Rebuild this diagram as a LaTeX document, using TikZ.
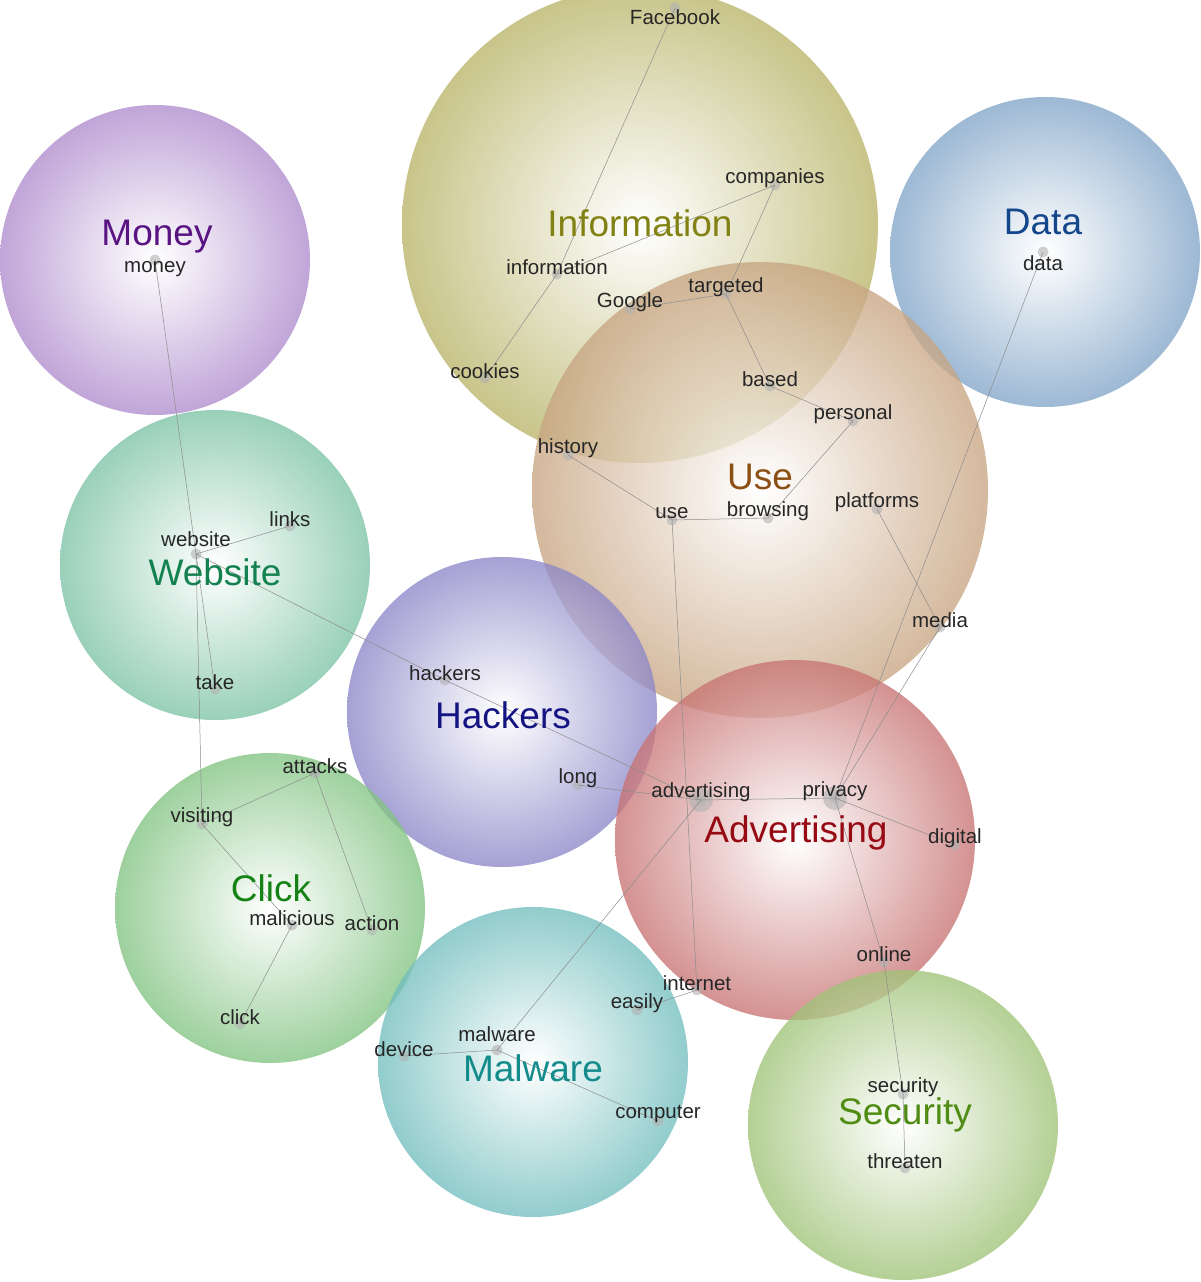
\documentclass[tikz,border=0pt]{standalone}
\usepackage{fontspec}
\setmainfont{Liberation Sans}
\begin{document}
\begin{tikzpicture}[x=1pt,y=-1pt,
  term/.style={font=\fontsize{20.5}{22}\selectfont, text=black!85, inner sep=1pt},
  concept/.style={font=\fontsize{37}{40}\selectfont, inner sep=1pt},
  dot/.style={circle, fill=gray!60, fill opacity=0.6, minimum size=11pt, inner sep=0pt},
  link/.style={draw=black!45, line width=0.5pt},
  bubble/.style={fill opacity=0.78}]
\useasboundingbox (0,0) rectangle (1200,1282);
\definecolor{cMoney}{RGB}{175,140,205}
\definecolor{cWeb}{RGB}{125,195,165}
\definecolor{cInfo}{RGB}{185,180,105}
\definecolor{cData}{RGB}{130,165,200}
\definecolor{cUse}{RGB}{200,165,130}
\definecolor{cHack}{RGB}{140,135,200}
\definecolor{cAdv}{RGB}{200,115,115}
\definecolor{cClick}{RGB}{130,195,130}
\definecolor{cMal}{RGB}{115,190,190}
\definecolor{cSec}{RGB}{160,195,120}
\definecolor{tMoney}{RGB}{90,20,130}
\definecolor{tWeb}{RGB}{20,130,80}
\definecolor{tInfo}{RGB}{130,130,20}
\definecolor{tData}{RGB}{20,70,140}
\definecolor{tUse}{RGB}{140,80,20}
\definecolor{tHack}{RGB}{20,20,130}
\definecolor{tAdv}{RGB}{150,10,20}
\definecolor{tClick}{RGB}{20,130,20}
\definecolor{tMal}{RGB}{20,140,140}
\definecolor{tSec}{RGB}{80,140,20}
% bubbles
\shade[bubble, inner color=white, outer color=cMoney] (155,260) circle (155);
\shade[bubble, inner color=white, outer color=cWeb] (215,565) circle (155);
\shade[bubble, inner color=white, outer color=cData] (1045,252) circle (155);
\shade[bubble, inner color=white, outer color=cInfo] (640,225) circle (238);
\shade[bubble, inner color=white, outer color=cUse] (760,490) circle (228);
\shade[bubble, inner color=white, outer color=cHack] (502,712) circle (155);
\shade[bubble, inner color=white, outer color=cAdv] (795,840) circle (180);
\shade[bubble, inner color=white, outer color=cClick] (270,908) circle (155);
\shade[bubble, inner color=white, outer color=cMal] (533,1062) circle (155);
\shade[bubble, inner color=white, outer color=cSec] (903,1125) circle (155);
% term dots
\foreach \n/\x/\y in {Facebook/675/8, companies/775/185, information/557/274, Google/630/309, targeted/726/294, cookies/485/378, based/770/386, personal/853/421, history/568/455, use/672/520, browsing/768/518, platforms/877/509, media/940/627, data/1043/252, money/155/260, website/196/554, links/290/526, take/215/689, hackers/445/680, long/578/785, advertising/701/800, privacy/835/798, digital/955/845, attacks/315/773, visiting/202/824, malicious/292/925, action/372/930, click/240/1024, internet/697/990, easily/637/1010, online/884/962, malware/497/1050, device/404/1056, computer/658/1121, security/903/1094, threaten/905/1168}
  \node[dot] (d\n) at (\x,\y) {};
\node[dot, minimum size=24pt] at (dadvertising) {};
\node[dot, minimum size=24pt] at (dprivacy) {};
% links
\foreach \a/\b in {Facebook/information, information/cookies, information/companies, companies/targeted, targeted/Google, targeted/based, based/personal, personal/browsing, browsing/use, use/history, use/internet, internet/easily, advertising/privacy, advertising/long, advertising/hackers, hackers/website, advertising/malware, privacy/data, privacy/media, media/platforms, privacy/digital, privacy/online, online/security, security/threaten, money/website, website/links, website/take, website/visiting, visiting/attacks, attacks/action, visiting/malicious, malicious/click, malware/device, malware/computer}
  \draw[link] (d\a.center) -- (d\b.center);
% term labels
\foreach \n/\x/\y in {Facebook/675/17, companies/775/178, information/557/267, Google/630/302, targeted/726/287, cookies/485/371, based/770/379, personal/853/414, history/568/448, use/672/513, browsing/768/511, platforms/877/502, media/940/620, data/1043/263, money/155/269, website/196/539, links/290/519, take/215/682, hackers/445/673, long/578/778, advertising/701/792, privacy/835/791, digital/955/838, attacks/315/766, visiting/202/817, malicious/292/918, action/372/923, click/240/1017, internet/697/983, easily/637/1003, online/884/954, malware/497/1034, device/404/1049, computer/658/1114, security/903/1087, threaten/905/1161}
  \node[term] (t\n) at (\x,\y) {\n};
% concept labels
\node[concept, text=tMoney] (Money) at (157,237) {Money};
\node[concept, text=tWeb] (Website) at (215,572) {Website};
\node[concept, text=tInfo] (Information) at (640,223) {Information};
\node[concept, text=tData] (Data) at (1043,222) {Data};
\node[concept, text=tUse] (Use) at (760,477) {Use};
\node[concept, text=tHack] (Hackers) at (503,715) {Hackers};
\node[concept, text=tAdv] (Advertising) at (796,833) {Advertising};
\node[concept, text=tClick] (Click) at (271,888) {Click};
\node[concept, text=tMal] (Malware) at (533,1068) {Malware};
\node[concept, text=tSec] (Security) at (905,1115) {Security};
\end{tikzpicture}
\end{document}
